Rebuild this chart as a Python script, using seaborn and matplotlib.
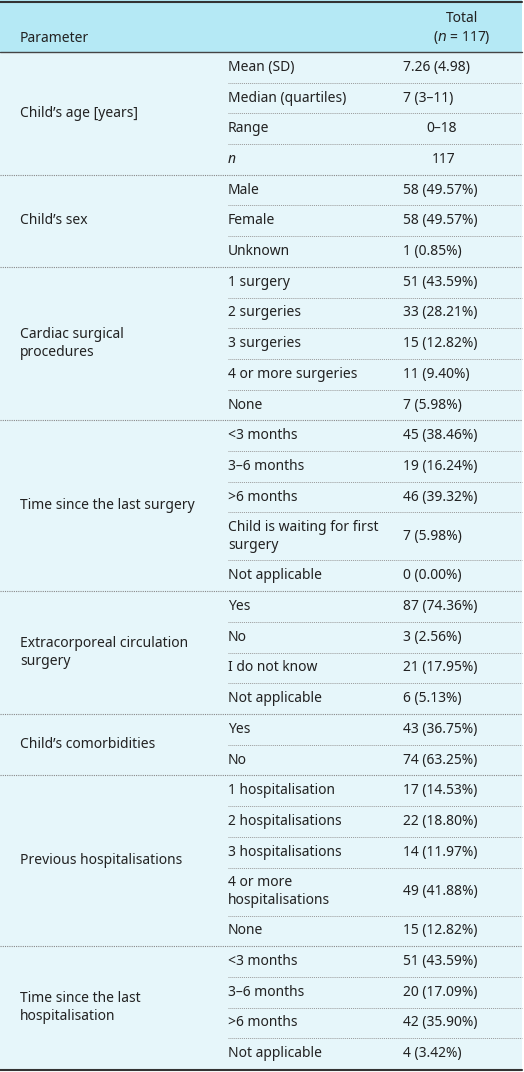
import matplotlib.pyplot as plt
import seaborn as sns

sns.set_theme(style="white")
plt.rcParams['font.family'] = ['Noto Sans', 'DejaVu Sans']

groups = ["Child\u2019s age [years]", "Child\u2019s sex", "Cardiac surgical\nprocedures",
          "Time since the last surgery", "Extracorporeal circulation\nsurgery",
          "Child\u2019s comorbidities", "Previous hospitalisations",
          "Time since the last\nhospitalisation"]
items = [
    ["Mean (SD)", "Median (quartiles)", "Range", "n"],
    ["Male", "Female", "Unknown"],
    ["1 surgery", "2 surgeries", "3 surgeries", "4 or more surgeries", "None"],
    ["<3 months", "3\u20136 months", ">6 months", "Child is waiting for first\nsurgery", "Not applicable"],
    ["Yes", "No", "I do not know", "Not applicable"],
    ["Yes", "No"],
    ["1 hospitalisation", "2 hospitalisations", "3 hospitalisations", "4 or more\nhospitalisations", "None"],
    ["<3 months", "3\u20136 months", ">6 months", "Not applicable"],
]
values = [
    ["7.26 (4.98)", "7 (3\u201311)", "0\u201318", "117"],
    ["58 (49.57%)", "58 (49.57%)", "1 (0.85%)"],
    ["51 (43.59%)", "33 (28.21%)", "15 (12.82%)", "11 (9.40%)", "7 (5.98%)"],
    ["45 (38.46%)", "19 (16.24%)", "46 (39.32%)", "7 (5.98%)", "0 (0.00%)"],
    ["87 (74.36%)", "3 (2.56%)", "21 (17.95%)", "6 (5.13%)"],
    ["43 (36.75%)", "74 (63.25%)"],
    ["17 (14.53%)", "22 (18.80%)", "14 (11.97%)", "49 (41.88%)", "15 (12.82%)"],
    ["51 (43.59%)", "20 (17.09%)", "42 (35.90%)", "4 (3.42%)"],
]

W, H = 524, 1072
fig = plt.figure(figsize=(W / 100, H / 100), dpi=100)
ax = fig.add_axes([0, 0, 1, 1])
ax.set_xlim(0, W)
ax.set_ylim(H, 0)
ax.axis("off")

fs = 10
head_h = 52
h1, h2 = 30.7, 48
ax.add_patch(plt.Rectangle((0, 0), 522, head_h, color="#b5e9f5", lw=0))
ax.plot([0, 522], [2, 2], color="#333333", lw=1.5)
ax.text(20, 38, "Parameter", fontsize=fs, va="center", color="#222222")
ax.text(462, 19, "Total", fontsize=fs, va="center", ha="center", color="#222222")
ax.text(462, 38, "($n$ = 117)", fontsize=fs, va="center", ha="center", color="#222222")

y = head_h
body_top = y
for gi, (g, its, vals) in enumerate(zip(groups, items, values)):
    gtop = y
    for ii, (it, v) in enumerate(zip(its, vals)):
        h = h2 if "\n" in it else h1
        cy = y + h / 2
        if it == "n":
            ax.text(228, cy, "n", fontsize=fs, style="italic", va="center", color="#222222")
        else:
            ax.text(228, cy, it, fontsize=fs, va="center", color="#222222", linespacing=1.25)
        if v == "0\u201318":
            ax.text(442, cy, v, fontsize=fs, va="center", ha="center", color="#222222")
        elif v == "117":
            ax.text(444, cy, v, fontsize=fs, va="center", ha="center", color="#222222")
        else:
            ax.text(403, cy, v, fontsize=fs, va="center", color="#222222")
        y += h
        if ii < len(its) - 1:
            ax.plot([228, 522], [y, y], color="#999999", lw=0.7, ls=(0, (1, 1)))
    ax.text(20, (gtop + y) / 2, g, fontsize=fs, va="center", color="#222222", linespacing=1.25)
    if gi < len(groups) - 1:
        ax.plot([0, 522], [y, y], color="#888888", lw=0.8, ls=(0, (1, 1)))

ax.add_patch(plt.Rectangle((0, body_top), 522, y - body_top, color="#e6f6fa", lw=0, zorder=0))
ax.plot([0, 522], [head_h, head_h], color="#444444", lw=1)
ax.plot([0, 522], [y + 1, y + 1], color="#333333", lw=1.5)

fig.savefig("out.png", dpi=100)
